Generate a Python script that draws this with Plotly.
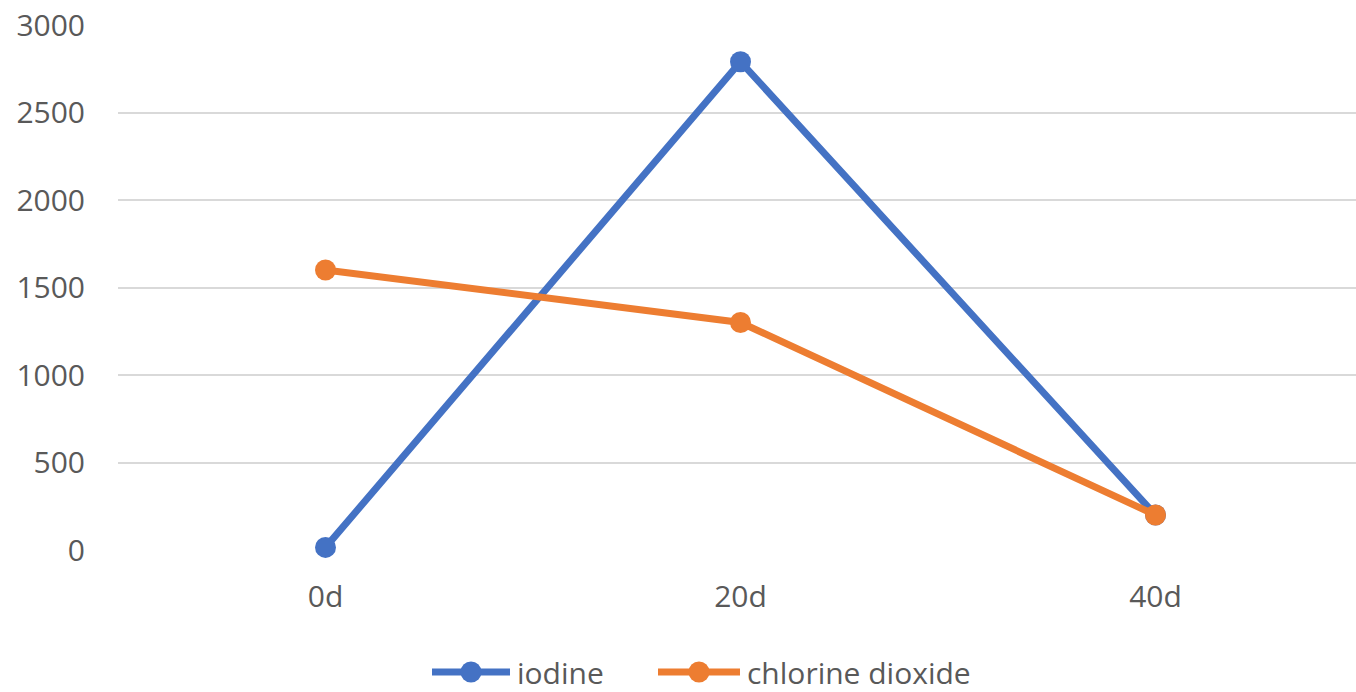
import plotly.graph_objects as go

# Sampling days and measured values for each disinfectant
days = ["0d", "20d", "40d"]
iodine = [15, 2790, 200]
chlorine_dioxide = [1600, 1300, 200]
y_ticks = [0, 500, 1000, 1500, 2000, 2500, 3000]

BLUE = "#4472C4"
ORANGE = "#ED7D31"
TEXT = "#595959"
GRID = "#D9D9D9"
FONT = "Open Sans"

W, H = 1356, 692
ML, MR, MT, MB = 118, 0, 25, 142
PW, PH = W - ML - MR, H - MT - MB

fig = go.Figure()
for name, vals, col in [("iodine", iodine, BLUE), ("chlorine dioxide", chlorine_dioxide, ORANGE)]:
    fig.add_trace(go.Scatter(
        x=list(range(len(days))), y=vals, name=name, mode="lines+markers",
        line=dict(color=col, width=7), marker=dict(color=col, size=21),
        showlegend=False, cliponaxis=False,
    ))

# Legend keys drawn beneath the plot (line with a dot, then the series label)
def px_x(px):
    return (px - ML) / PW

def px_y(py):
    return (H - MB - py) / PH

legend_y = 672
items = [("iodine", BLUE, 432, 510), ("chlorine dioxide", ORANGE, 658, 740)]
for label, col, x0, x1 in items:
    fig.add_shape(type="line", xref="paper", yref="paper",
                  x0=px_x(x0), x1=px_x(x1), y0=px_y(legend_y), y1=px_y(legend_y),
                  line=dict(color=col, width=7))
    cx = (x0 + x1) / 2
    r = 10.5
    fig.add_shape(type="circle", xref="paper", yref="paper",
                  x0=px_x(cx - r), x1=px_x(cx + r), y0=px_y(legend_y + r), y1=px_y(legend_y - r),
                  fillcolor=col, line=dict(color=col, width=0))
    fig.add_annotation(text=label, xref="paper", yref="paper",
                       x=px_x(x1 + 6), y=px_y(legend_y), xanchor="left", yanchor="middle",
                       showarrow=False, borderpad=0,
                       font=dict(family=FONT, size=30, color=TEXT))

fig.update_layout(
    width=W, height=H,
    margin=dict(l=ML, r=MR, t=MT, b=MB),
    paper_bgcolor="white", plot_bgcolor="white",
    font=dict(family=FONT, size=30, color=TEXT),
    xaxis=dict(
        range=[-0.5, -0.5 + PW / 415], tickmode="array",
        tickvals=list(range(len(days))), ticktext=days,
        showgrid=False, zeroline=False, showline=False,
        ticks="outside", ticklen=20, tickcolor="rgba(0,0,0,0)",
        tickfont=dict(family=FONT, size=30, color=TEXT),
    ),
    yaxis=dict(
        range=[0, 3000], tickmode="array", tickvals=y_ticks,
        showgrid=True, gridcolor=GRID, gridwidth=2,
        zeroline=False, showline=False,
        ticks="outside", ticklen=26, tickcolor="rgba(0,0,0,0)",
        tickfont=dict(family=FONT, size=30, color=TEXT),
    ),
)

fig.write_html("out.html")
